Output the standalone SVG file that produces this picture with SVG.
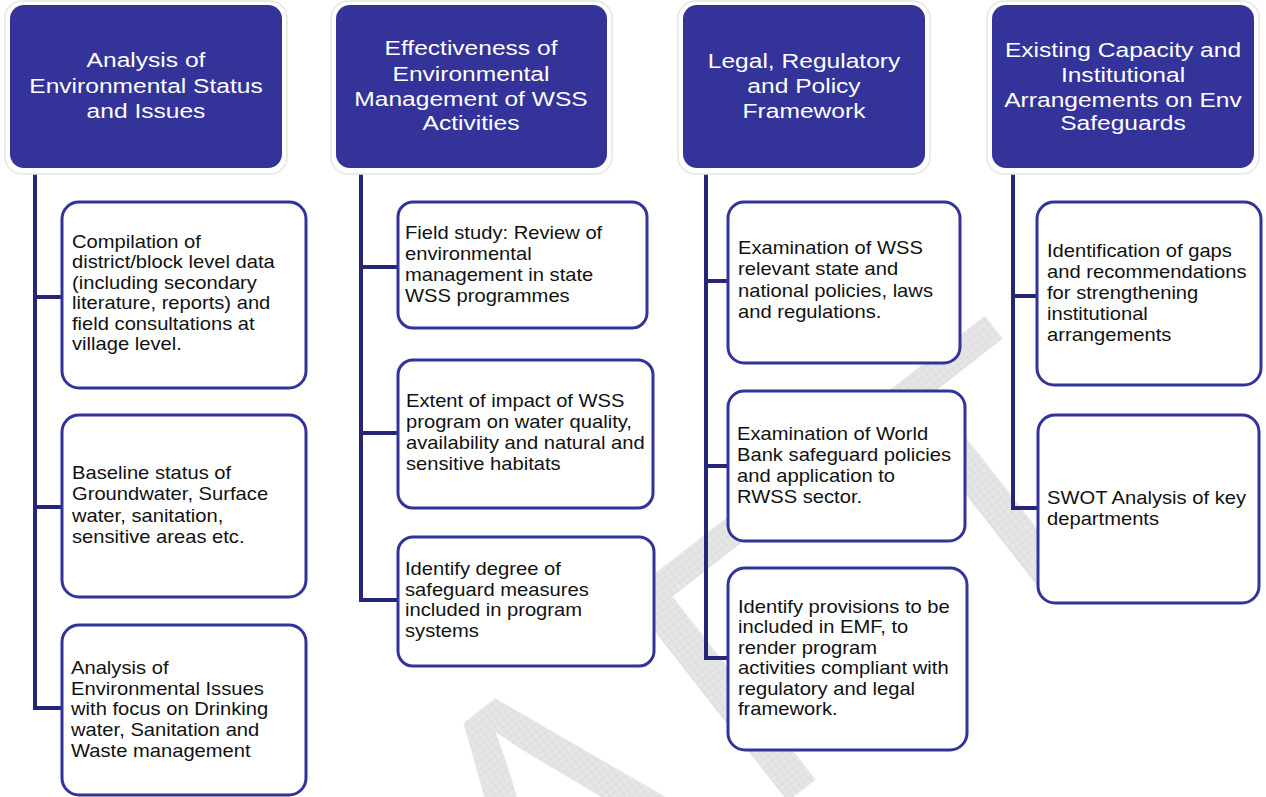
<svg xmlns="http://www.w3.org/2000/svg" width="1266" height="797" viewBox="0 0 1266 797">
<defs>
<pattern id="chk" width="6" height="6" patternUnits="userSpaceOnUse">
<rect width="6" height="6" fill="#e4e4e4"/>
<path d="M0 0H6M0 0V6" stroke="#d2d2d2" stroke-width="1"/>
</pattern>
</defs>
<style>
.hbox{fill:#333399;stroke:none}
.hglow{fill:#ffffff;stroke:#e6e6e6;stroke-width:1.5}
.h{font-family:"Liberation Sans",Arial,sans-serif;font-size:21px;fill:#ffffff;text-anchor:middle}
.cbox{fill:#ffffff;stroke:#333399;stroke-width:3}
.t{font-family:"Liberation Sans",Arial,sans-serif;font-size:18px;fill:#111111}
.conn{fill:none;stroke:#262679;stroke-width:4;stroke-linejoin:miter}
.wm{font-family:"Liberation Sans",Arial,sans-serif;font-size:380px;letter-spacing:30px;fill:url(#chk);opacity:0.9}
</style>
<rect width="1266" height="797" fill="#ffffff"/>
<g id="watermark">
<text class="wm" transform="translate(60,1370) rotate(-38)">DRAFT</text>
</g>
<g id="connectors">
<path class="conn" d="M35 172V708H62M35 297H62M35 507H62"/>
<path class="conn" d="M361 172V600H398M361 267H398M361 433H398"/>
<path class="conn" d="M706 172V658H728M706 281H728M706 466H728"/>
<path class="conn" d="M1013 172V508H1037M1013 296H1037"/>
</g>
<g id="h1">
<rect class="hglow" x="5" y="1" width="282" height="173" rx="17"/>
<rect class="hbox" x="10" y="5" width="272" height="163" rx="14"/>
<text class="h" transform="matrix(1.17 0 0 1 146 0)"><tspan x="0" y="67">Analysis of</tspan><tspan x="0" y="93">Environmental Status</tspan><tspan x="0" y="118">and Issues</tspan></text>
</g>
<g id="h2">
<rect class="hglow" x="331" y="1" width="281" height="173" rx="17"/>
<rect class="hbox" x="336" y="5" width="271" height="163" rx="14"/>
<text class="h" transform="matrix(1.17 0 0 1 471 0)"><tspan x="0" y="55">Effectiveness of</tspan><tspan x="0" y="81">Environmental</tspan><tspan x="0" y="106">Management of WSS</tspan><tspan x="0" y="130">Activities</tspan></text>
</g>
<g id="h3">
<rect class="hglow" x="678" y="1" width="252" height="173" rx="17"/>
<rect class="hbox" x="683" y="5" width="242" height="163" rx="14"/>
<text class="h" transform="matrix(1.17 0 0 1 804 0)"><tspan x="0" y="68">Legal, Regulatory</tspan><tspan x="0" y="93">and Policy</tspan><tspan x="0" y="118">Framework</tspan></text>
</g>
<g id="h4">
<rect class="hglow" x="987" y="1" width="272" height="173" rx="17"/>
<rect class="hbox" x="992" y="5" width="262" height="163" rx="14"/>
<text class="h" transform="matrix(1.17 0 0 1 1123 0)"><tspan x="0" y="57">Existing Capacity and</tspan><tspan x="0" y="82">Institutional</tspan><tspan x="0" y="107">Arrangements on Env</tspan><tspan x="0" y="130">Safeguards</tspan></text>
</g>
<g id="c1a">
<rect class="cbox" x="62" y="202" width="244" height="186" rx="17"/>
<text class="t" transform="matrix(1.12 0 0 1 72 0)"><tspan x="0" y="248">Compilation of</tspan><tspan x="0" y="268.5">district/block level data</tspan><tspan x="0" y="289">(including secondary</tspan><tspan x="0" y="309.5">literature, reports) and</tspan><tspan x="0" y="330">field consultations at</tspan><tspan x="0" y="350.5">village level.</tspan></text>
</g>
<g id="c1b">
<rect class="cbox" x="62" y="415" width="244" height="182" rx="17"/>
<text class="t" transform="matrix(1.12 0 0 1 72 0)"><tspan x="0" y="479">Baseline status of</tspan><tspan x="0" y="500.3">Groundwater, Surface</tspan><tspan x="0" y="521.6">water, sanitation,</tspan><tspan x="0" y="543">sensitive areas etc.</tspan></text>
</g>
<g id="c1c">
<rect class="cbox" x="62" y="625" width="244" height="170" rx="17"/>
<text class="t" transform="matrix(1.12 0 0 1 71 0)"><tspan x="0" y="674">Analysis of</tspan><tspan x="0" y="694.7">Environmental Issues</tspan><tspan x="0" y="715.4">with focus on Drinking</tspan><tspan x="0" y="736.1">water, Sanitation and</tspan><tspan x="0" y="757">Waste management</tspan></text>
</g>
<g id="c2a">
<rect class="cbox" x="398" y="202" width="249" height="126" rx="15"/>
<text class="t" transform="matrix(1.12 0 0 1 405 0)"><tspan x="0" y="239">Field study: Review of</tspan><tspan x="0" y="260">environmental</tspan><tspan x="0" y="281">management in state</tspan><tspan x="0" y="302">WSS programmes</tspan></text>
</g>
<g id="c2b">
<rect class="cbox" x="398" y="360" width="255" height="148" rx="15"/>
<text class="t" transform="matrix(1.12 0 0 1 406 0)"><tspan x="0" y="407">Extent of impact of WSS</tspan><tspan x="0" y="428">program  on water quality,</tspan><tspan x="0" y="449">availability and natural and</tspan><tspan x="0" y="470">sensitive habitats</tspan></text>
</g>
<g id="c2c">
<rect class="cbox" x="398" y="537" width="256" height="129" rx="15"/>
<text class="t" transform="matrix(1.12 0 0 1 405 0)"><tspan x="0" y="575">Identify degree of</tspan><tspan x="0" y="595.7">safeguard measures</tspan><tspan x="0" y="616.3">included in program</tspan><tspan x="0" y="637">systems</tspan></text>
</g>
<g id="c3a">
<rect class="cbox" x="728" y="202" width="232" height="161" rx="16"/>
<text class="t" transform="matrix(1.12 0 0 1 738 0)"><tspan x="0" y="254">Examination of WSS</tspan><tspan x="0" y="275.3">relevant state and</tspan><tspan x="0" y="296.6">national policies, laws</tspan><tspan x="0" y="318">and regulations.</tspan></text>
</g>
<g id="c3b">
<rect class="cbox" x="728" y="391" width="237" height="150" rx="16"/>
<text class="t" transform="matrix(1.12 0 0 1 737 0)"><tspan x="0" y="440">Examination of World</tspan><tspan x="0" y="461">Bank safeguard policies</tspan><tspan x="0" y="482">and application to</tspan><tspan x="0" y="503">RWSS sector.</tspan></text>
</g>
<g id="c3c">
<rect class="cbox" x="728" y="568" width="239" height="182" rx="17"/>
<text class="t" transform="matrix(1.12 0 0 1 738 0)"><tspan x="0" y="613">Identify provisions to be</tspan><tspan x="0" y="633.4">included in EMF, to</tspan><tspan x="0" y="653.8">render program</tspan><tspan x="0" y="674.2">activities compliant with</tspan><tspan x="0" y="694.6">regulatory and legal</tspan><tspan x="0" y="715">framework.</tspan></text>
</g>
<g id="c4a">
<rect class="cbox" x="1037" y="202" width="224" height="183" rx="17"/>
<text class="t" transform="matrix(1.12 0 0 1 1047 0)"><tspan x="0" y="257">Identification of gaps</tspan><tspan x="0" y="278">and recommendations</tspan><tspan x="0" y="299">for strengthening</tspan><tspan x="0" y="320">institutional</tspan><tspan x="0" y="341">arrangements</tspan></text>
</g>
<g id="c4b">
<rect class="cbox" x="1038" y="415" width="221" height="188" rx="17"/>
<text class="t" transform="matrix(1.12 0 0 1 1047 0)"><tspan x="0" y="504">SWOT Analysis of key</tspan><tspan x="0" y="525">departments</tspan></text>
</g>
</svg>
